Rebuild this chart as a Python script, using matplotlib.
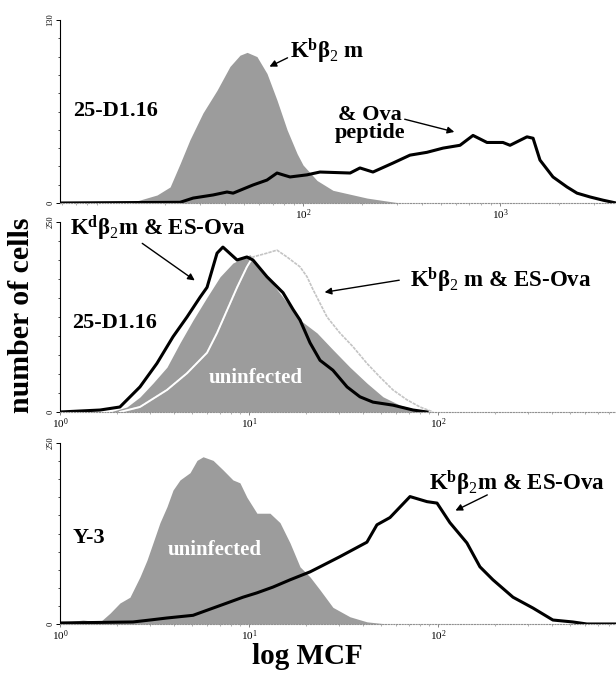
import numpy as np
import matplotlib
matplotlib.use('Agg')
import matplotlib.pyplot as plt
from matplotlib.ticker import FixedLocator, NullFormatter

plt.rcParams['font.family'] = ['Liberation Serif', 'DejaVu Serif']
plt.rcParams['mathtext.fontset'] = 'custom'
plt.rcParams['mathtext.rm'] = 'Liberation Serif'
plt.rcParams['mathtext.bf'] = 'Liberation Serif:bold'
plt.rcParams['mathtext.it'] = 'Liberation Serif:italic'

# --- data (x given as log10 of MCF, y = number of cells) ---
# panel 1: 25-D1.16, Kb b2m
p1_gray_log = [1.137, 1.259, 1.325, 1.376, 1.426, 1.492, 1.563, 1.629, 1.680, 1.716,
               1.766, 1.817, 1.868, 1.919, 1.970, 2.000, 2.071, 2.152, 2.325, 2.492]
p1_gray_cnt = [0.7, 5.7, 11.4, 28, 45, 64, 80, 97, 105, 107,
               104, 92, 73, 52, 35, 27, 16, 9, 3.5, 0]
p1_ova_log = [0.766, 1.376, 1.442, 1.543, 1.614, 1.645, 1.746, 1.817, 1.868, 1.898,
              1.934, 2.020, 2.086, 2.239, 2.289, 2.355, 2.457, 2.543, 2.629, 2.711,
              2.797, 2.863, 2.934, 3.015, 3.051, 3.137, 3.168, 3.203, 3.269, 3.340,
              3.391, 3.457, 3.523, 3.589]
p1_ova_cnt = [0, 0.5, 3.5, 5.7, 7.8, 7, 12.8, 16.3, 21.3, 20,
              18.5, 20, 22, 21.3, 24.9, 22, 28.4, 34, 36, 39,
              41, 48, 43, 43, 41, 47, 46, 30.5, 18.5, 11.4,
              7, 4.3, 2, 0]

# panel 2: 25-D1.16, ES-Ova
p2_gray_log = [0.265, 0.354, 0.423, 0.492, 0.566, 0.635, 0.704, 0.778, 0.847, 0.915,
               1.005, 1.095, 1.180, 1.270, 1.360, 1.444, 1.534, 1.624, 1.709, 1.799,
               1.889, 1.974]
p2_gray_cnt = [0, 6.6, 19.7, 38, 59, 91, 121, 151, 178, 196,
               207, 178, 151, 121, 104, 82, 59, 38, 20, 9,
               2.6, 0]
p2_kb_log = [0.317, 0.423, 0.566, 0.672, 0.778, 0.831, 0.884, 0.937, 0.989, 1.021,
             1.095, 1.148, 1.201, 1.270, 1.307, 1.339, 1.376, 1.413, 1.481, 1.550,
             1.624, 1.693, 1.762, 1.836, 1.905, 1.974]
p2_kb_cnt = [0, 6.6, 29, 51, 78, 104, 134, 164, 191, 204,
             209, 213, 204, 191, 178, 161, 143, 125, 104, 86,
             64, 46, 29, 16, 6.6, 0]
p2_kd_log = [0.0, 0.212, 0.317, 0.423, 0.513, 0.598, 0.672, 0.741, 0.778, 0.831,
             0.862, 0.937, 0.989, 1.021, 1.095, 1.180, 1.233, 1.270, 1.323, 1.376,
             1.444, 1.519, 1.587, 1.656, 1.762, 1.868, 1.942]
p2_kd_cnt = [0, 2.6, 6.6, 33, 64, 99, 125, 151, 164, 209,
             217, 200, 204, 200, 178, 157, 135, 121, 91, 68,
             55, 33, 20, 13, 9, 2.6, 0]

# panel 3: Y-3
p3_gray_log = [0.0, 0.037, 0.122, 0.212, 0.265, 0.317, 0.370, 0.423, 0.460, 0.492,
               0.529, 0.566, 0.598, 0.635, 0.688, 0.725, 0.757, 0.810, 0.862, 0.915,
               0.952, 0.989, 1.042, 1.111, 1.164, 1.217, 1.270, 1.323, 1.376, 1.444,
               1.534, 1.624, 1.730]
p3_gray_cnt = [0, 2.8, 5.5, 2.8, 15, 29, 37, 65, 88, 112,
               140, 162, 185, 199, 209, 226, 231, 226, 213, 199,
               195, 175, 153, 153, 140, 112, 79, 65, 47, 23,
               10, 3, 0]
p3_kb_log = [0.0, 0.386, 0.476, 0.566, 0.704, 0.778, 0.884, 0.968, 1.042, 1.127,
             1.217, 1.323, 1.376, 1.481, 1.624, 1.677, 1.746, 1.852, 1.942, 1.995,
             2.063, 2.153, 2.222, 2.291, 2.397, 2.503, 2.608, 2.714, 2.788, 2.942]
p3_kb_cnt = [1.4, 2.8, 5.5, 8.3, 12, 19, 29, 37, 43, 51,
             61, 72, 79, 93, 113, 137, 147, 176, 169, 167,
             140, 112, 79, 61, 37, 22, 5.5, 2.8, 0, 0]

ymax = [130, 250, 250]
xlims_log = [(0.766, 3.589), (0.0, 2.942), (0.0, 2.942)]
decades = [[2, 3], [0, 1, 2], [0, 1, 2]]

GRAY = '#9c9c9c'
BOLD = dict(fontweight='bold', family=['Liberation Serif', 'DejaVu Serif'])

fig = plt.figure(figsize=(6.16, 6.73), dpi=100)
W = 616.0
H = 673.0
# pixel boxes: (left, top, right, bottom)
boxes = [(60, 20, 616, 203), (60, 222, 616, 412), (60, 443, 616, 624)]
axes = []
for (l, t, r, b) in boxes:
    ax = fig.add_axes([l / W, 1 - b / H, (r - l) / W, (b - t) / H])
    axes.append(ax)


def style(ax, i):
    ax.set_xscale('log')
    lo, hi = xlims_log[i]
    ax.set_xlim(10 ** lo, 10 ** hi)
    ax.set_ylim(0, ymax[i])
    ax.patch.set_alpha(0)
    for s in ['top', 'right']:
        ax.spines[s].set_visible(False)
    ax.spines['left'].set_linewidth(0.8)
    ax.spines['bottom'].set_color('#909090')
    ax.spines['bottom'].set_linestyle((0, (1, 1.5)))
    ax.spines['bottom'].set_linewidth(0.8)
    ax.xaxis.set_major_locator(FixedLocator([10.0 ** d for d in decades[i]]))
    ax.set_xticklabels(['$10^{%d}$' % d for d in decades[i]])
    ax.xaxis.set_minor_formatter(NullFormatter())
    ax.tick_params(axis='x', which='major', length=2, width=0.6, labelsize=8, pad=1, color='#707070')
    ax.tick_params(axis='x', which='minor', length=1.5, width=0.5, color='#909090')
    ax.yaxis.set_major_locator(FixedLocator([0, ymax[i]]))
    ax.yaxis.set_minor_locator(FixedLocator(list(np.arange(0, ymax[i] + 1, ymax[i] / 10.0))))
    ax.set_yticklabels(['0', str(ymax[i])], rotation=90, va='center')
    ax.tick_params(axis='y', which='major', length=3, width=0.7, labelsize=6, pad=1)
    ax.tick_params(axis='y', which='minor', length=1.5, width=0.5)


# panel 1
ax = axes[0]
style(ax, 0)
ax.fill_between(10 ** np.array(p1_gray_log), p1_gray_cnt, 0, color=GRAY, lw=0)
ax.plot(10 ** np.array(p1_ova_log), p1_ova_cnt, color='black', lw=2.2, solid_joinstyle='round')
ax.text(1.17 * 10 ** 0.766, 65, '25-D1.16', fontsize=16, va='center', ha='left', **BOLD)
ax.text(85.9, 108, r'K$^{\mathbf{b}}$β$_{2}$ m', fontsize=16.5, va='center', ha='left', **BOLD)
ax.annotate('', xy=(65.6, 96), xytext=(85.9, 104),
            arrowprops=dict(arrowstyle='-|>', color='black', lw=1, mutation_scale=10))
ax.text(219, 56, '& Ova\npeptide', fontsize=16, va='center', ha='center', linespacing=0.85, **BOLD)
ax.annotate('', xy=(605, 50), xytext=(318, 60),
            arrowprops=dict(arrowstyle='-|>', color='black', lw=1, mutation_scale=10))

# panel 2
ax = axes[1]
style(ax, 1)
fill2 = ax.fill_between(10 ** np.array(p2_gray_log), p2_gray_cnt, 0, color=GRAY, lw=0)
ax.plot(10 ** np.array(p2_kb_log), p2_kb_cnt, color='#c4c4c4', lw=1.2, ls=(0, (2, 0.6)))
wl, = ax.plot(10 ** np.array(p2_kb_log), p2_kb_cnt, color='white', lw=1.4)
wl.set_clip_path(fill2.get_paths()[0], ax.transData)
ax.plot(10 ** np.array(p2_kd_log), p2_kd_cnt, color='black', lw=2.2, solid_joinstyle='round')
ax.text(1.157, 117, '25-D1.16', fontsize=16, va='center', ha='left', **BOLD)
ax.text(1.13, 242, r'K$^{\mathbf{d}}$β$_{2}$m & ES-Ova', fontsize=16.5, va='center', ha='left', **BOLD)
ax.annotate('', xy=(5.31, 171), xytext=(2.65, 224),
            arrowprops=dict(arrowstyle='-|>', color='black', lw=1, mutation_scale=10))
ax.text(71.1, 174, r'K$^{\mathbf{b}}$β$_{2}$ m & ES-Ova', fontsize=16.5, va='center', ha='left', **BOLD)
ax.annotate('', xy=(24.3, 157), xytext=(64.5, 174),
            arrowprops=dict(arrowstyle='-|>', color='black', lw=1, mutation_scale=10))
ax.text(10.8, 45, 'uninfected', fontsize=15, va='center', ha='center', color='white', **BOLD)

# panel 3
ax = axes[2]
style(ax, 2)
ax.fill_between(10 ** np.array(p3_gray_log), p3_gray_cnt, 0, color=GRAY, lw=0)
ax.plot(10 ** np.array(p3_kb_log), p3_kb_cnt, color='black', lw=2.2, solid_joinstyle='round')
ax.text(1.17, 119, 'Y-3', fontsize=16, va='center', ha='left', **BOLD)
ax.text(6.61, 102, 'uninfected', fontsize=15, va='center', ha='center', color='white', **BOLD)
ax.text(262, 194, r'K$^{\mathbf{b}}$β$_{2}$m & ES-Ova', fontsize=16.5, va='center', ha='center', **BOLD)
ax.annotate('', xy=(120, 155), xytext=(188, 180),
            arrowprops=dict(arrowstyle='-|>', color='black', lw=1, mutation_scale=10))

fig.text(22 / W, 1 - 315 / H, 'number of cells', rotation=90, fontsize=21.5,
         ha='center', va='center', **BOLD)
fig.text(307 / W, 1 - 656 / H, 'log MCF', fontsize=21, ha='center', va='center', **BOLD)

fig.savefig('out.png', dpi=100)
